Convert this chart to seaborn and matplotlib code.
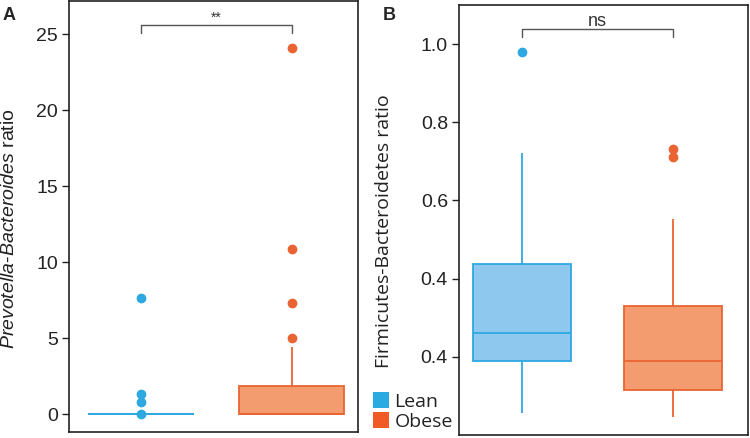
import numpy as np
import pandas as pd
import seaborn as sns
import matplotlib.pyplot as plt
from matplotlib.patches import Patch

groups = ['Lean', 'Obese']

# Prevotella-Bacteroides ratio (panel A)
pb_lean = [0, 0, 0, 0, 0, 0, 0, 0, 0, 0, 0, 0, 0, 0, 0, 0, 0, 0, 0, 0,
           0.03, 0.78, 1.3, 7.66]
pb_obese = [0, 0, 0, 0, 0, 0, 0, 0, 0, 0, 0,
            0.4, 0.8, 1.2, 1.5, 1.86, 4.4, 4.98, 7.3, 10.85, 24.1]

# Firmicutes-Bacteroidetes ratio (panel B)
fb_lean = [0.057, 0.10, 0.13, 0.16, 0.18, 0.19, 0.21, 0.22, 0.24, 0.25, 0.262,
           0.29, 0.32, 0.36, 0.40, 0.438, 0.48, 0.53, 0.61, 0.721, 0.98]
fb_obese = [0.047, 0.07, 0.09, 0.10, 0.11, 0.116, 0.13, 0.15, 0.16, 0.18, 0.19,
            0.21, 0.23, 0.26, 0.30, 0.329, 0.38, 0.45, 0.553, 0.71, 0.731]

b_ticks = [0.2, 0.4, 0.6, 0.8, 1.0]
b_ticklabels = ['0.4', '0.4', '0.6', '0.8', '1.0']

edge_colors = {'Lean': '#2EA8E0', 'Obese': '#EA6433'}
fill_colors = {'Lean': '#8EC8EE', 'Obese': '#F29C70'}
legend_colors = {'Lean': '#29ABE2', 'Obese': '#F15A24'}

sns.set_style('ticks')
plt.rcParams['font.family'] = ['Liberation Sans', 'DejaVu Sans']
plt.rcParams['mathtext.fontset'] = 'custom'
plt.rcParams['mathtext.rm'] = 'Liberation Sans'
plt.rcParams['mathtext.it'] = 'Liberation Sans:italic'


def make_frame(lean, obese):
    return pd.DataFrame({
        'group': ['Lean'] * len(lean) + ['Obese'] * len(obese),
        'value': lean + obese,
    })


def draw_boxes(ax, df, width):
    for g in groups:
        sub = df[df['group'] == g]
        sns.boxplot(data=sub, x='group', y='value', order=groups, ax=ax,
                    color=fill_colors[g], linecolor=edge_colors[g], saturation=1,
                    width=width, linewidth=1.3, showcaps=False,
                    flierprops=dict(marker='o', markersize=6,
                                    markerfacecolor=edge_colors[g],
                                    markeredgecolor=edge_colors[g]))


def bracket(ax, y0, y1, label, size, ty):
    ax.plot([0, 0, 1, 1], [y0, y1, y1, y0], color='#555555', lw=1, clip_on=False)
    ax.text(0.5, ty, label, ha='center', va='center', fontsize=size, color='#333333')


def style_axis(ax):
    for s in ax.spines.values():
        s.set_visible(True)
        s.set_linewidth(1.2)
        s.set_color('#222222')
    ax.tick_params(axis='y', length=5, width=1, labelsize=14, color='#222222',
                   labelcolor='#222222', pad=3)
    ax.tick_params(axis='x', bottom=False, labelbottom=False)
    ax.set_xlabel('')


fig = plt.figure(figsize=(7.5, 4.38), dpi=100)
ax1 = fig.add_axes([0.092, 0.0137, 0.3853, 0.984])
ax2 = fig.add_axes([0.612, 0.0069, 0.3853, 0.9817])

# panel A
draw_boxes(ax1, make_frame(pb_lean, pb_obese), 0.7)
ax1.set_xlim(-0.478, 1.441)
ax1.set_ylim(-1.18, 27.2)
ax1.set_yticks([0, 5, 10, 15, 20, 25])
style_axis(ax1)
ax1.set_ylabel(r'$\it{Prevotella}$-$\it{Bacteroides}$ ratio', fontsize=14,
               color='#222222')
ax1.yaxis.set_label_coords(-0.178, 0.473)
bracket(ax1, 25.08, 25.6, '**', 10, 26.1)

# panel B
draw_boxes(ax2, make_frame(fb_lean, fb_obese), 0.65)
ax2.set_xlim(-0.418, 1.498)
ax2.set_ylim(0.0, 1.1)
ax2.set_yticks(b_ticks)
ax2.set_yticklabels(b_ticklabels)
style_axis(ax2)
ax2.set_ylabel('Firmicutes-Bacteroidetes ratio', fontsize=14, color='#222222',
               family=['Open Sans', 'DejaVu Sans'])
ax2.yaxis.set_label_coords(-0.228, 0.474)
bracket(ax2, 1.018, 1.038, 'ns', 13, 1.058)

fig.text(0.004, 0.965, 'A', fontsize=13, fontweight='bold', va='center')
fig.text(0.51, 0.965, 'B', fontsize=13, fontweight='bold', va='center')

handles = [Patch(facecolor=legend_colors[g], edgecolor='none') for g in groups]
fig.legend(handles, groups, loc='lower left', bbox_to_anchor=(0.482, -0.01),
           frameon=False, handlelength=0.8, handleheight=0.9, handletextpad=0.3,
           labelspacing=0.05, borderaxespad=0.2, labelcolor='#222222',
           prop={'family': ['Open Sans', 'DejaVu Sans'], 'size': 14})

fig.savefig('out.png', dpi=100)
